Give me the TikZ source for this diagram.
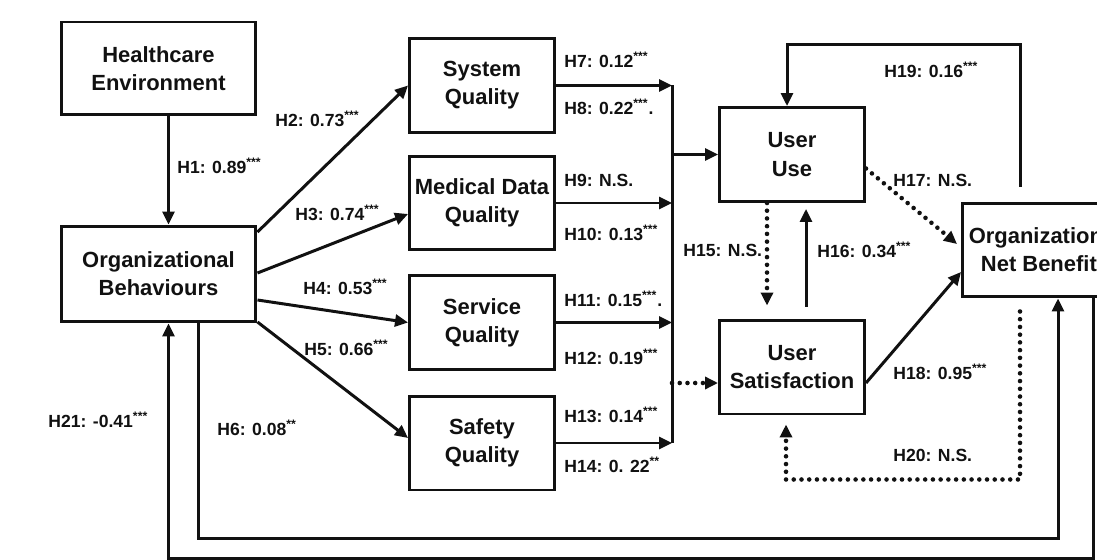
\documentclass[tikz,border=0pt]{standalone}
\usepackage{fontspec}
\setmainfont{Liberation Sans}
\usepackage{xcolor}
\definecolor{cInk}{HTML}{111111}
\usetikzlibrary{arrows.meta,calc}
\tikzset{
  node-box/.style={draw=cInk,line width=1.7pt,minimum width=2.9cm,
    minimum height=1.88cm,align=center,inner sep=2pt,
    font=\fontsize{12.5}{16}\selectfont\bfseries,text=cInk},
  node-wide/.style={minimum width=3.9cm},
  hyp-label/.style={anchor=west,inner sep=0pt,
    font=\fontsize{10}{12}\selectfont\bfseries,text=cInk},
  plain-line/.style={line width=1.7pt,draw=cInk},
  arrow/.style={-{Triangle[length=2.6mm,width=2.4mm]},line width=1.7pt,draw=cInk},
  arrow-dotted/.style={arrow,line width=2.6pt,dash pattern=on 0pt off 4.4pt,
    line cap=round},
}

\begin{document}
\begin{tikzpicture}[x=0.02cm,y=-0.02cm]
  \useasboundingbox (0,0) rectangle (1097,560);
  \clip (0,0) rectangle (1097,560);

  \node[node-box,node-wide,minimum height=1.86cm] (env) at (158.5,68.5) {Healthcare\\Environment};
  \node[node-box,node-wide,minimum height=1.92cm] (org) at (158.5,274) {Organizational\\Behaviours};
  \node[node-box] (sys) at (482,85.5) {System\\Quality};
  \node[node-box] (med) at (482,203) {Medical Data\\Quality};
  \node[node-box] (svc) at (482,322.5) {Service\\Quality};
  \node[node-box] (saf) at (482,443) {Safety\\Quality};
  \node[node-box] (use) at (792,154.5) {User\\Use};
  \node[node-box] (sat) at (792,367) {User\\Satisfaction};
  \node[node-box,minimum width=3.3cm] (net) at (1045,250) {Organizational\\Net Benefits};

  % H1 - H5
  \draw[arrow] ($(env.south)+(10,0)$) -- ($(org.north)+(10,0)$);
  \draw[arrow] ($(org.east)+(0,-42)$) -- (sys.west);
  \draw[arrow] ($(org.east)+(0,-1)$) -- ($(med.west)+(0,11)$);
  \draw[arrow] ($(org.east)+(0,26)$) -- (svc.west);
  \draw[arrow] ($(org.east)+(0,48)$) -- ($(saf.west)+(0,-5)$);

  % H7 - H14 into the bus
  \coordinate (bus) at (672,0);
  \draw[plain-line] (sys.east -| bus) -- (saf.east -| bus);
  \foreach \n in {sys,med,svc,saf}
    \draw[arrow] (\n.east) -- (\n.east -| bus);
  \coordinate (sat-in) at ($(sat.west)+(0,16)$);
  \draw[arrow] (use.west -| bus) -- (use.west);
  \draw[arrow-dotted] (sat-in -| bus) -- (sat-in);

  % H15 - H20
  \draw[arrow-dotted,shorten >=0.26cm] ($(use.south)+(-25,0)$) -- ($(sat.north)+(-25,0)$);
  \draw[arrow,shorten <=0.24cm,shorten >=0.12cm] ($(sat.north)+(14,0)$) -- ($(use.south)+(14,0)$);
  \draw[arrow-dotted] ($(use.east)+(0,14)$) -- ($(net.west)+(-4,-6)$);
  \draw[arrow] ($(sat.east)+(0,16)$) -- ($(net.west)+(0,22)$);
  \draw[arrow,shorten <=0.3cm] ($(net.north)+(-25,0)$) |- ($(use.north)+(-5,-62)$) -- ($(use.north)+(-5,0)$);
  \draw[arrow-dotted,shorten <=0.26cm,shorten >=0.18cm] ($(net.south)+(-25,0)$) |- ($(sat.south)+(-6,64)$) -- ($(sat.south)+(-6,0)$);

  % H6, H21
  \coordinate (h6-a) at ($(org.south)+(40,0)$);
  \coordinate (h6-b) at ($(net.south)+(13,0)$);
  \draw[arrow] (h6-a) |- ($(h6-b)+(0,240)$) -- (h6-b);
  \coordinate (h21-a) at ($(net.south)+(48,0)$);
  \coordinate (h21-b) at ($(org.south)+(10,0)$);
  \draw[arrow] (h21-a) -- ($(h21-a)+(0,260)$) -| (h21-b);

  \node[hyp-label] (l1) at (177,166) {H1: 0.89\textsuperscript{***}};
  \node[hyp-label] (l2) at (275,119) {H2: 0.73\textsuperscript{***}};
  \node[hyp-label] (l3) at (295,213) {H3: 0.74\textsuperscript{***}};
  \node[hyp-label] (l4) at (303,287) {H4: 0.53\textsuperscript{***}};
  \node[hyp-label] (l5) at (304,348) {H5: 0.66\textsuperscript{***}};
  \node[hyp-label] (l6) at (217,428) {H6: 0.08\textsuperscript{**}};
  \node[hyp-label] (l7) at (564,60) {H7: 0.12\textsuperscript{***}};
  \node[hyp-label] (l8) at (564,107) {H8: 0.22\textsuperscript{***}.};
  \node[hyp-label] (l9) at (564,180) {H9: N.S.};
  \node[hyp-label] (l10) at (564,233) {H10: 0.13\textsuperscript{***}};
  \node[hyp-label] (l11) at (564,299) {H11: 0.15\textsuperscript{***}.};
  \node[hyp-label] (l12) at (564,357) {H12: 0.19\textsuperscript{***}};
  \node[hyp-label] (l13) at (564,415) {H13: 0.14\textsuperscript{***}};
  \node[hyp-label] (l14) at (564,465) {H14: 0. 22\textsuperscript{**}};
  \node[hyp-label] (l15) at (683,250) {H15: N.S.};
  \node[hyp-label] (l16) at (817,250) {H16: 0.34\textsuperscript{***}};
  \node[hyp-label] (l17) at (893,180) {H17: N.S.};
  \node[hyp-label] (l18) at (893,372) {H18: 0.95\textsuperscript{***}};
  \node[hyp-label] (l19) at (884,70) {H19: 0.16\textsuperscript{***}};
  \node[hyp-label] (l20) at (893,455) {H20: N.S.};
  \node[hyp-label] (l21) at (48,420) {H21: -0.41\textsuperscript{***}};
\end{tikzpicture}
\end{document}
